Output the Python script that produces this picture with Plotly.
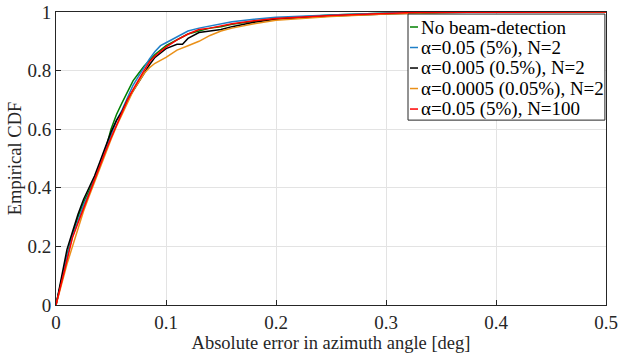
import plotly.graph_objects as go

# Empirical CDF knots
x_green = [0, 0.005, 0.01, 0.015, 0.02, 0.025, 0.03, 0.035, 0.04, 0.045, 0.05, 0.055, 0.06, 0.065, 0.07, 0.075, 0.08, 0.085, 0.09, 0.1, 0.11, 0.12, 0.13, 0.14, 0.15, 0.16, 0.18, 0.2, 0.25, 0.3, 0.33, 0.5]
y_green = [0, 0.09, 0.17, 0.24, 0.30, 0.35, 0.39, 0.43, 0.48, 0.53, 0.60, 0.65, 0.69, 0.73, 0.765, 0.79, 0.815, 0.835, 0.855, 0.885, 0.905, 0.925, 0.935, 0.945, 0.95, 0.958, 0.968, 0.978, 0.99, 0.996, 1.0, 1.0]

x_blue = [0, 0.005, 0.01, 0.015, 0.02, 0.025, 0.03, 0.035, 0.04, 0.045, 0.05, 0.055, 0.06, 0.065, 0.07, 0.075, 0.08, 0.085, 0.09, 0.095, 0.1, 0.11, 0.12, 0.13, 0.14, 0.15, 0.16, 0.18, 0.2, 0.25, 0.3, 0.33, 0.5]
y_blue = [0, 0.085, 0.165, 0.235, 0.29, 0.34, 0.38, 0.43, 0.48, 0.53, 0.575, 0.63, 0.665, 0.71, 0.75, 0.78, 0.81, 0.84, 0.865, 0.885, 0.895, 0.915, 0.935, 0.945, 0.952, 0.96, 0.967, 0.975, 0.982, 0.99, 0.996, 1.0, 1.0]

x_black = [0, 0.005, 0.01, 0.015, 0.02, 0.025, 0.03, 0.035, 0.04, 0.045, 0.05, 0.055, 0.06, 0.065, 0.07, 0.075, 0.08, 0.085, 0.09, 0.1, 0.11, 0.115, 0.12, 0.13, 0.14, 0.15, 0.16, 0.18, 0.2, 0.25, 0.3, 0.35, 0.4, 0.5]
y_black = [0, 0.10, 0.19, 0.25, 0.31, 0.36, 0.40, 0.44, 0.49, 0.54, 0.59, 0.63, 0.66, 0.70, 0.73, 0.76, 0.79, 0.82, 0.845, 0.875, 0.89, 0.89, 0.91, 0.93, 0.935, 0.94, 0.95, 0.965, 0.975, 0.986, 0.993, 0.998, 1.0, 1.0]

x_orange = [0, 0.005, 0.01, 0.015, 0.02, 0.025, 0.03, 0.035, 0.04, 0.045, 0.05, 0.055, 0.06, 0.065, 0.07, 0.075, 0.08, 0.085, 0.09, 0.1, 0.11, 0.12, 0.13, 0.14, 0.15, 0.16, 0.18, 0.2, 0.25, 0.3, 0.35, 0.38, 0.5]
y_orange = [0, 0.07, 0.14, 0.20, 0.26, 0.32, 0.37, 0.42, 0.47, 0.52, 0.565, 0.61, 0.65, 0.69, 0.73, 0.76, 0.79, 0.81, 0.825, 0.845, 0.87, 0.885, 0.90, 0.92, 0.935, 0.945, 0.96, 0.972, 0.985, 0.993, 0.998, 1.0, 1.0]

x_red = [0, 0.005, 0.01, 0.015, 0.02, 0.025, 0.03, 0.035, 0.04, 0.045, 0.05, 0.055, 0.06, 0.065, 0.07, 0.075, 0.08, 0.085, 0.09, 0.1, 0.11, 0.12, 0.13, 0.14, 0.15, 0.16, 0.18, 0.2, 0.25, 0.3, 0.33, 0.5]
y_red = [0, 0.08, 0.16, 0.23, 0.28, 0.33, 0.375, 0.425, 0.475, 0.525, 0.57, 0.615, 0.66, 0.70, 0.735, 0.77, 0.80, 0.83, 0.85, 0.88, 0.905, 0.925, 0.94, 0.945, 0.953, 0.96, 0.97, 0.978, 0.988, 0.995, 0.999, 1.0]

names = ["No beam-detection", "α=0.05 (5%), N=2", "α=0.005 (0.5%), N=2",
         "α=0.0005 (0.05%), N=2", "α=0.05 (5%), N=100"]
colors = ["#008000", "#1F7FC8", "#000000", "#EA9018", "#FF0000"]
series = [(x_green, y_green), (x_blue, y_blue), (x_black, y_black),
          (x_orange, y_orange), (x_red, y_red)]

x_ticks = [0, 0.1, 0.2, 0.3, 0.4, 0.5]
y_ticks = [0, 0.2, 0.4, 0.6, 0.8, 1]
x_ticklabels = ["0", "0.1", "0.2", "0.3", "0.4", "0.5"]
y_ticklabels = ["0", "0.2", "0.4", "0.6", "0.8", "1"]

FONT = "Liberation Serif, 'Times New Roman', Times, serif"

fig = go.Figure()
for (xs, ys), name, c in zip(series, names, colors):
    fig.add_trace(go.Scatter(x=xs, y=ys, name=name, mode="lines",
                             line=dict(color=c, width=1.5), showlegend=False))

# MATLAB-style compact legend (box, short line samples, labels) in paper coords
leg_x0, leg_x1, leg_y0, leg_y1 = 0.640, 0.998, 0.631, 0.993
row_top, row_step = 0.9488, 0.0700
fig.add_shape(type="rect", xref="paper", yref="paper",
              x0=leg_x0, x1=leg_x1, y0=leg_y0, y1=leg_y1,
              fillcolor="white", line=dict(color="#262626", width=1), layer="above")
for i, (name, c) in enumerate(zip(names, colors)):
    yy = row_top - i * row_step
    fig.add_shape(type="line", xref="paper", yref="paper",
                  x0=0.6436, x1=0.6582, y0=yy, y1=yy,
                  line=dict(color=c, width=1.5), layer="above")
    fig.add_annotation(xref="paper", yref="paper", x=0.6600, y=yy,
                       xanchor="left", yanchor="middle", showarrow=False,
                       text=name, font=dict(family=FONT, size=19, color="#000000"))

fig.update_layout(
    width=619, height=356,
    margin=dict(l=56, r=13, t=12, b=51, autoexpand=False),
    paper_bgcolor="white", plot_bgcolor="white",
    font=dict(family=FONT, size=18, color="#262626"),
    showlegend=False,
)
fig.update_xaxes(range=[0, 0.5], tickvals=x_ticks, ticktext=x_ticklabels,
                 automargin=False,
                 showgrid=True, gridcolor="#E3E3E3", gridwidth=1,
                 showline=True, linecolor="#262626", linewidth=1, mirror=True,
                 ticks="inside", ticklen=5, tickcolor="#262626", zeroline=False,
                 tickfont=dict(family=FONT, size=19, color="#262626"),
                 title=dict(text="Absolute error in azimuth angle [deg]",
                            font=dict(family=FONT, size=18.5), standoff=0))
fig.update_yaxes(range=[0, 1], tickvals=y_ticks, ticktext=y_ticklabels,
                 automargin=False,
                 showgrid=True, gridcolor="#E3E3E3", gridwidth=1,
                 showline=True, linecolor="#262626", linewidth=1, mirror=True,
                 ticks="inside", ticklen=5, tickcolor="#262626", zeroline=False,
                 tickfont=dict(family=FONT, size=19, color="#262626"),
                 title=dict(text="Empirical CDF", font=dict(family=FONT, size=18.5),
                            standoff=0))

# remove the default 8px body margin so the figure sits at the page origin
fig.write_html("out.html", config={"displayModeBar": False},
               post_script="document.body.style.margin='0px';")
